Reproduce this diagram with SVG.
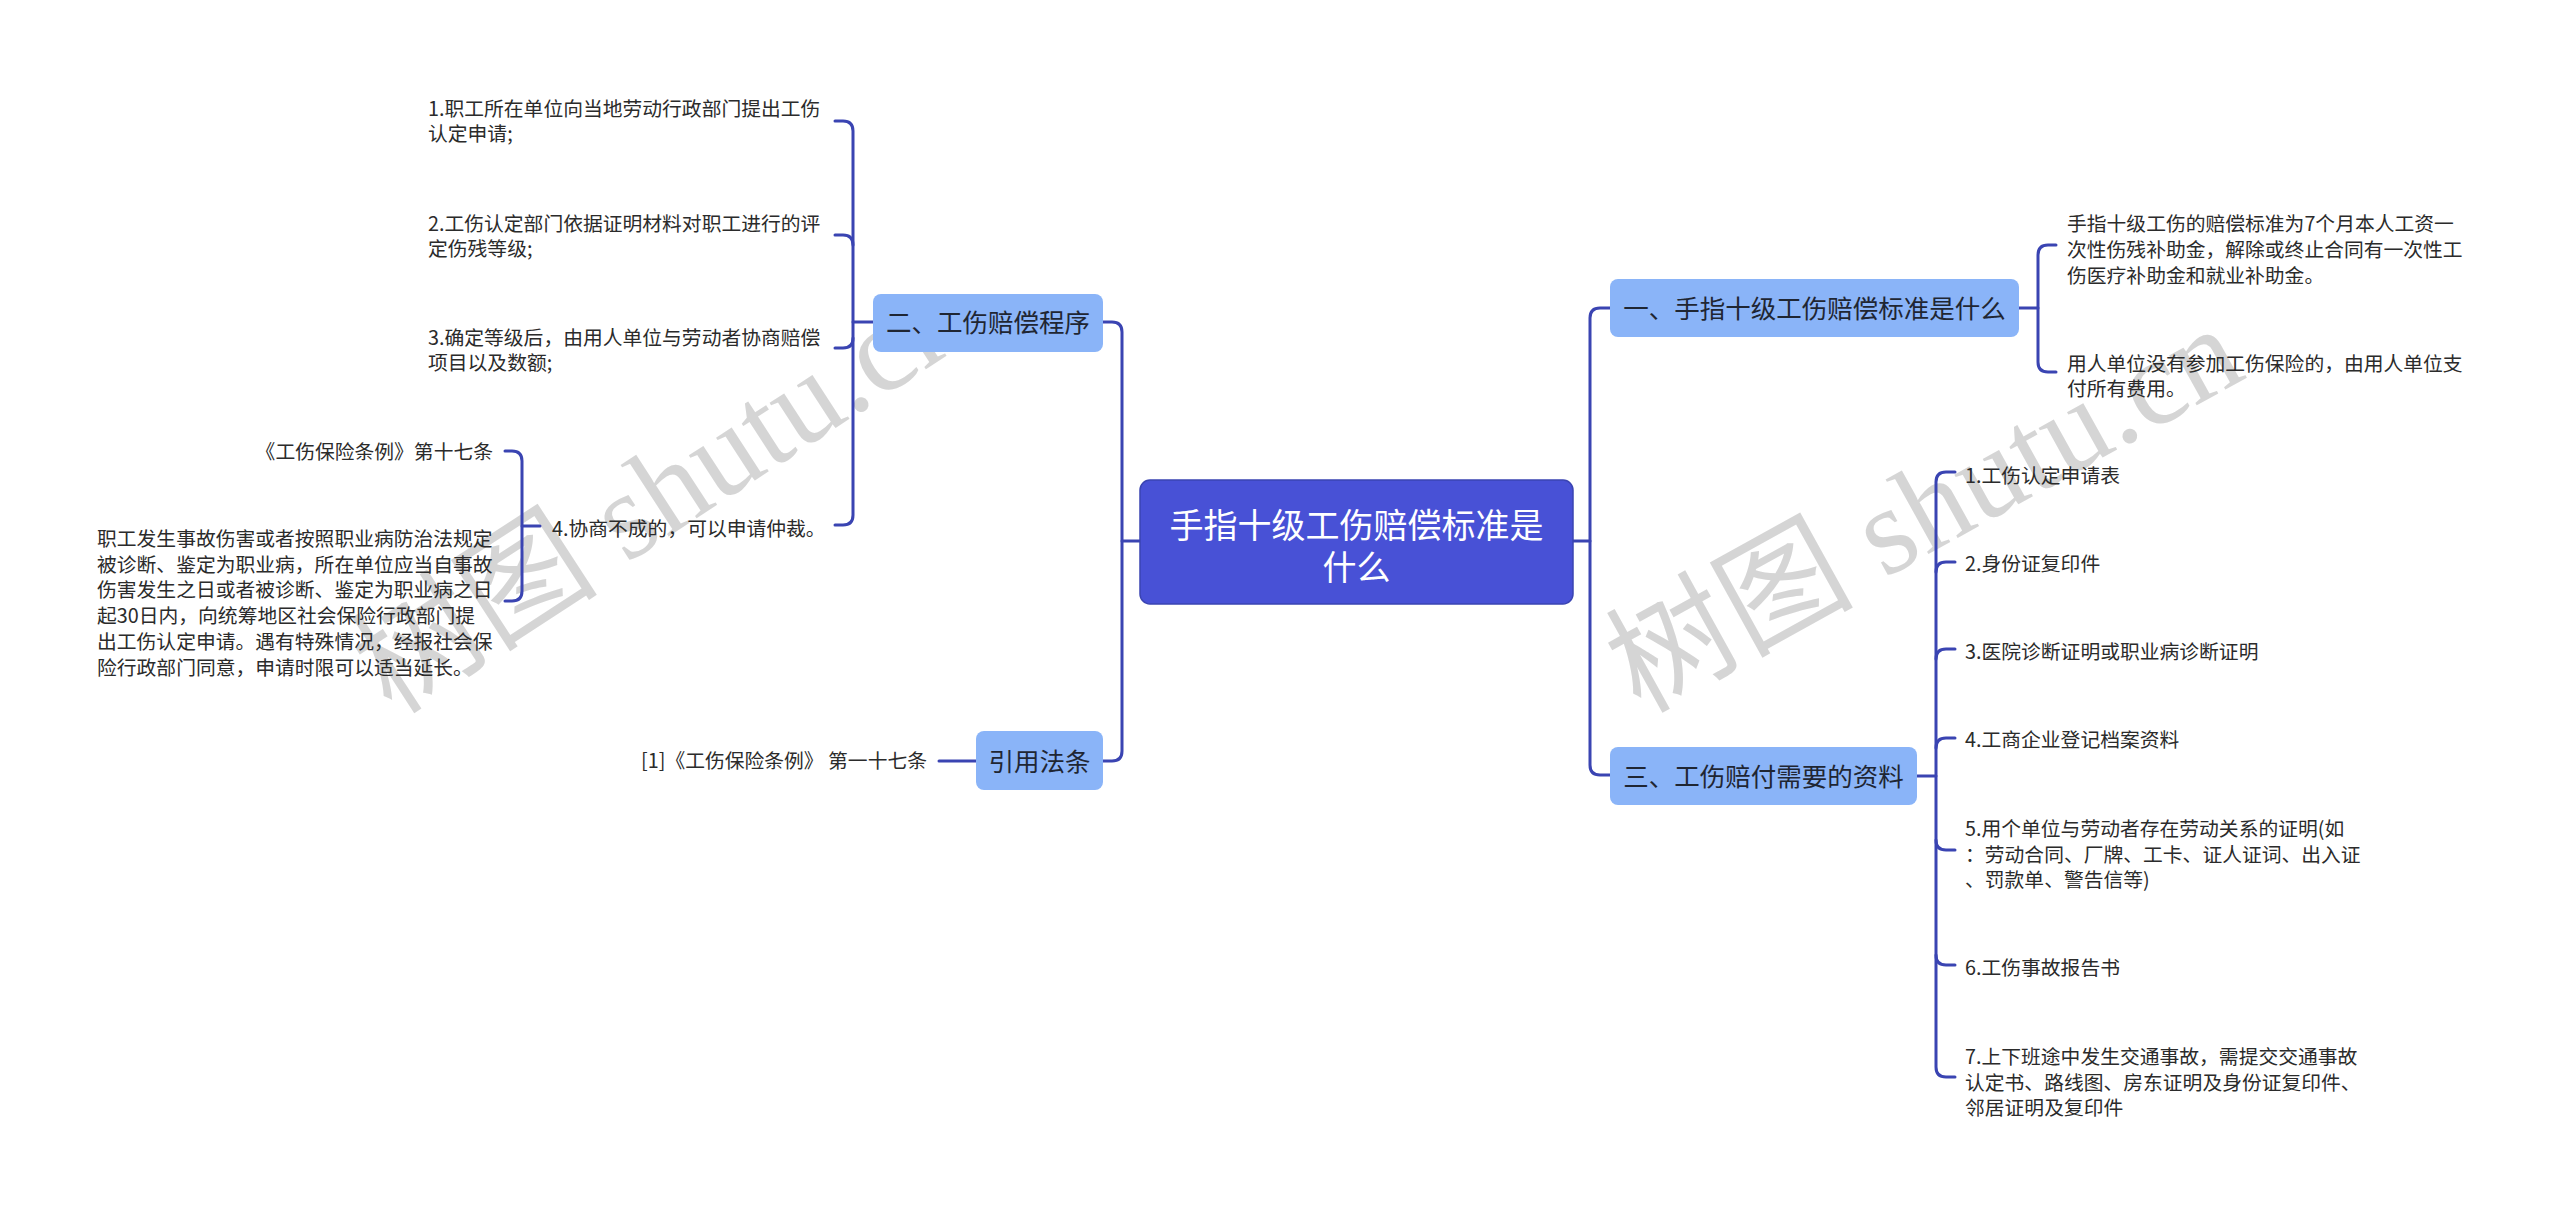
<svg xmlns="http://www.w3.org/2000/svg" width="2560" height="1213" viewBox="0 0 2560 1213">
<style>
.bg{fill:#ffffff}
.wm{font-family:"Liberation Serif","Noto Sans CJK SC",serif;font-size:124px;fill:#c6c6c6;opacity:0.72}
.ln{fill:none;stroke:#3a44b2;stroke-width:3;stroke-linecap:round}
.box{fill:#8ab4f8;stroke:none}
.cbox{fill:#4851d6;stroke:#3a44b2;stroke-width:1.5}
.nt{font-family:"Noto Sans CJK SC","Noto Sans",sans-serif;font-size:25.5px;fill:#1f2633;text-anchor:middle}
.ct{font-family:"Noto Sans CJK SC","Noto Sans",sans-serif;font-size:34px;fill:#ffffff;text-anchor:middle}
.lt{font-family:"Noto Sans CJK SC","Noto Sans",sans-serif;font-size:19.8px;fill:#2b2b2b}
.end{text-anchor:end}
</style>
<rect class="bg" x="0" y="0" width="2560" height="1213"/>

<g id="watermarks">
  <text class="wm" transform="translate(392 716) rotate(-33)">树图 shutu.cn</text>
  <text class="wm" transform="translate(1640 714) rotate(-29)">树图 shutu.cn</text>
</g>

<g id="connectors">
  <path class="ln" d="M1140 541 H1122"/>
  <path class="ln" d="M1103 322 H1112 Q1122 322 1122 332 V751 Q1122 761 1112 761 H1103"/>
  <path class="ln" d="M1573 541 H1590"/>
  <path class="ln" d="M1610 308 H1600 Q1590 308 1590 318 V765 Q1590 775 1600 775 H1610"/>
  <path class="ln" d="M873 322 H853"/>
  <path class="ln" d="M835 121 H843 Q853 121 853 131 V515 Q853 525 843 525 H835"/>
  <path class="ln" d="M853 245 Q853 235 843 235 H835"/>
  <path class="ln" d="M853 338 Q853 348 843 348 H835"/>
  <path class="ln" d="M540 526 H522"/>
  <path class="ln" d="M505 451 H512 Q522 451 522 461 V591 Q522 601 512 601 H505"/>
  <path class="ln" d="M976 761 H939"/>
  <path class="ln" d="M2019 308 H2038"/>
  <path class="ln" d="M2056 245 H2048 Q2038 245 2038 255 V362 Q2038 372 2048 372 H2056"/>
  <path class="ln" d="M1917 776 H1936"/>
  <path class="ln" d="M1955 472 H1946 Q1936 472 1936 482 V1067 Q1936 1077 1946 1077 H1955"/>
  <path class="ln" d="M1936 572 Q1936 562 1946 562 H1955"/>
  <path class="ln" d="M1936 659 Q1936 649 1946 649 H1955"/>
  <path class="ln" d="M1936 748 Q1936 738 1946 738 H1955"/>
  <path class="ln" d="M1936 840 Q1936 850 1946 850 H1955"/>
  <path class="ln" d="M1936 955 Q1936 965 1946 965 H1955"/>
</g>

<g id="center">
  <rect class="cbox" x="1140" y="480" width="433" height="124" rx="10"/>
  <text class="ct" x="1356.5" y="538">手指十级工伤赔偿标准是</text>
  <text class="ct" x="1356.5" y="580">什么</text>
</g>

<g id="n2">
  <rect class="box" x="873" y="294" width="230" height="58" rx="8"/>
  <text class="nt" x="988" y="332">二、工伤赔偿程序</text>
</g>
<g id="n2-1">
  <text class="lt" x="428" y="116">1.职工所在单位向当地劳动行政部门提出工伤</text>
  <text class="lt" x="428" y="141">认定申请;</text>
</g>
<g id="n2-2">
  <text class="lt" x="428" y="231">2.工伤认定部门依据证明材料对职工进行的评</text>
  <text class="lt" x="428" y="256">定伤残等级;</text>
</g>
<g id="n2-3">
  <text class="lt" x="428" y="345">3.确定等级后，由用人单位与劳动者协商赔偿</text>
  <text class="lt" x="428" y="370">项目以及数额;</text>
</g>
<g id="n2-4">
  <text class="lt" x="552" y="536">4.协商不成的，可以申请仲裁。</text>
</g>
<g id="n2-4-1">
  <text class="lt end" x="493" y="459">《工伤保险条例》第十七条</text>
</g>
<g id="n2-4-2">
  <text class="lt" x="97" y="546">职工发生事故伤害或者按照职业病防治法规定</text>
  <text class="lt" x="97" y="571.7">被诊断、鉴定为职业病，所在单位应当自事故</text>
  <text class="lt" x="97" y="597.4">伤害发生之日或者被诊断、鉴定为职业病之日</text>
  <text class="lt" x="97" y="623.1">起30日内，向统筹地区社会保险行政部门提</text>
  <text class="lt" x="97" y="648.8">出工伤认定申请。遇有特殊情况，经报社会保</text>
  <text class="lt" x="97" y="674.5">险行政部门同意，申请时限可以适当延长。</text>
</g>

<g id="ref">
  <rect class="box" x="976" y="731" width="127" height="59" rx="8"/>
  <text class="nt" x="1039.5" y="771">引用法条</text>
</g>
<g id="ref-1">
  <text class="lt end" x="927" y="768">[1]《工伤保险条例》 第一十七条</text>
</g>

<g id="n1">
  <rect class="box" x="1610" y="279" width="409" height="58" rx="8"/>
  <text class="nt" x="1814.5" y="318">一、手指十级工伤赔偿标准是什么</text>
</g>
<g id="n1-1">
  <text class="lt" x="2067" y="231">手指十级工伤的赔偿标准为7个月本人工资一</text>
  <text class="lt" x="2067" y="257">次性伤残补助金，解除或终止合同有一次性工</text>
  <text class="lt" x="2067" y="283">伤医疗补助金和就业补助金。</text>
</g>
<g id="n1-2">
  <text class="lt" x="2067" y="371">用人单位没有参加工伤保险的，由用人单位支</text>
  <text class="lt" x="2067" y="396">付所有费用。</text>
</g>

<g id="n3">
  <rect class="box" x="1610" y="747" width="307" height="58" rx="8"/>
  <text class="nt" x="1763.5" y="786">三、工伤赔付需要的资料</text>
</g>
<g id="n3-1"><text class="lt" x="1965" y="483">1.工伤认定申请表</text></g>
<g id="n3-2"><text class="lt" x="1965" y="571">2.身份证复印件</text></g>
<g id="n3-3"><text class="lt" x="1965" y="659">3.医院诊断证明或职业病诊断证明</text></g>
<g id="n3-4"><text class="lt" x="1965" y="747">4.工商企业登记档案资料</text></g>
<g id="n3-5">
  <text class="lt" x="1965" y="836">5.用个单位与劳动者存在劳动关系的证明(如</text>
  <text class="lt" x="1965" y="862">：劳动合同、厂牌、工卡、证人证词、出入证</text>
  <text class="lt" x="1965" y="887">、罚款单、警告信等)</text>
</g>
<g id="n3-6"><text class="lt" x="1965" y="975">6.工伤事故报告书</text></g>
<g id="n3-7">
  <text class="lt" x="1965" y="1064">7.上下班途中发生交通事故，需提交交通事故</text>
  <text class="lt" x="1965" y="1090">认定书、路线图、房东证明及身份证复印件、</text>
  <text class="lt" x="1965" y="1115">邻居证明及复印件</text>
</g>
</svg>
